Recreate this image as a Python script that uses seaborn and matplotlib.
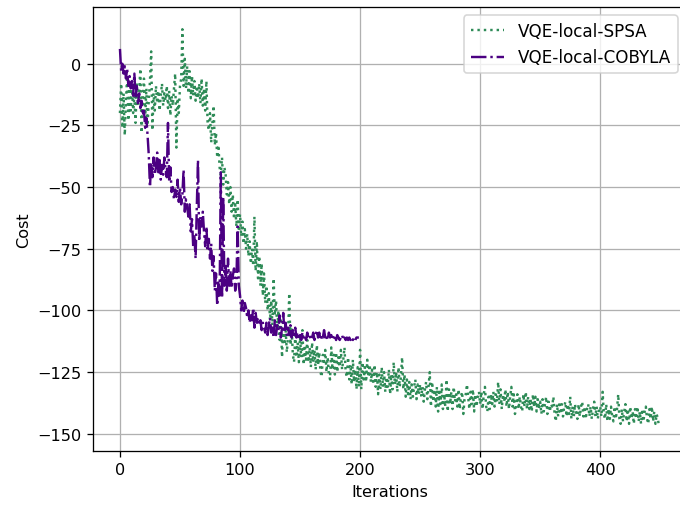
import numpy as np
import pandas as pd
import matplotlib
matplotlib.use("Agg")
import matplotlib.pyplot as plt
import seaborn as sns

# SPSA cost per iteration (0..449)
spsa_cost = [
    -20, -8, -26, -12, -29, -15, -5, -23, -10, -19,
    -9, -20, -13, -24, -8, -17, -11, -2, -28, -14,
    -6, -22, -10, -25, -15, -7, 5, -27, -12, -19,
    -9, -16, -11, -19, -13, -8, -17, -12, -15, -9,
    -18, -11, -21, -13, -17, -10, -4, -34, -14, -20,
    -9, -6, 14, -9, 2, -10, -1, -12, -3, -14,
    -5, -13, -7, -15, -9, -14, -8, -16, -6, -17,
    -10, -19, -7, -24, -27, -20, -32, -24, -17, -33,
    -28, -38, -33, -42, -45, -38, -49, -42, -45, -53,
    -48, -57, -50, -60, -53, -63, -57, -66, -55, -68,
    -61, -70, -64, -73, -67, -75, -69, -78, -72, -81,
    -75, -82, -62, -84, -72, -87, -78, -90, -81, -94,
    -85, -97, -90, -100, -93, -104, -96, -106, -87, -102,
    -96, -108, -100, -112, -103, -119, -105, -114, -108, -117,
    -110, -93, -114, -107, -118, -121, -110, -119, -113, -121,
    -111, -119, -108, -122, -114, -120, -112, -121, -115, -123,
    -113, -121, -116, -124, -114, -122, -117, -125, -127, -118,
    -122, -116, -125, -119, -126, -128, -115, -124, -118, -126,
    -117, -125, -119, -123, -116, -124, -120, -115, -125, -127,
    -119, -128, -122, -130, -120, -129, -124, -132, -123, -131,
    -116, -132, -121, -128, -123, -129, -120, -127, -122, -129,
    -124, -130, -122, -131, -125, -134, -126, -132, -123, -131,
    -125, -133, -127, -131, -124, -134, -126, -132, -121, -130,
    -125, -133, -123, -131, -127, -119, -132, -126, -135, -128,
    -134, -129, -136, -130, -135, -131, -128, -136, -130, -134,
    -130, -135, -131, -137, -132, -129, -136, -131, -125, -139,
    -129, -137, -132, -139, -131, -141, -133, -138, -130, -140,
    -134, -139, -128, -141, -132, -138, -133, -140, -131, -137,
    -134, -139, -132, -140, -135, -133, -142, -136, -134, -130,
    -135, -140, -133, -138, -132, -141, -134, -139, -135, -133,
    -138, -133, -140, -134, -131, -139, -141, -135, -140, -134,
    -138, -133, -139, -134, -137, -129, -138, -132, -140, -134,
    -137, -132, -139, -133, -140, -135, -131, -139, -134, -142,
    -138, -134, -140, -135, -139, -141, -134, -139, -133, -140,
    -135, -140, -136, -141, -134, -139, -135, -141, -136, -140,
    -137, -142, -136, -141, -138, -135, -142, -137, -141, -138,
    -139, -135, -142, -145, -138, -143, -137, -142, -138, -143,
    -139, -137, -143, -138, -142, -135, -144, -139, -143, -138,
    -142, -144, -138, -143, -139, -137, -143, -139, -144, -140,
    -138, -143, -139, -144, -140, -137, -143, -139, -144, -140,
    -139, -143, -133, -142, -144, -138, -145, -140, -144, -139,
    -143, -145, -139, -144, -140, -134, -144, -146, -140, -145,
    -141, -138, -145, -140, -146, -139, -144, -141, -146, -140,
    -144, -139, -145, -141, -146, -140, -145, -141, -139, -144,
    -146, -140, -144, -139, -145, -141, -146, -142, -144, -147,
]

# COBYLA cost per iteration (0..199)
cobyla_cost = [
    6, -3, 0, -4, -1, -6, -2, -9, -5, -10,
    -7, -13, -4, -14, -9, -16, -12, -18, -15, -21,
    -19, -26, -22, -29, -37, -50, -40, -46, -38, -45,
    -42, -36, -44, -39, -47, -41, -45, -38, -43, -46,
    -24, -48, -42, -52, -50, -55, -51, -54, -47, -56,
    -50, -57, -53, -43, -60, -55, -58, -62, -57, -68,
    -63, -74, -70, -79, -58, -39, -72, -62, -66, -60,
    -68, -74, -66, -76, -71, -79, -73, -84, -78, -92,
    -85, -98, -88, -94, -44, -95, -54, -90, -82, -92,
    -79, -90, -84, -91, -86, -83, -92, -88, -66, -90,
    -94, -100, -96, -101, -97, -99, -103, -100, -105, -102,
    -104, -99, -107, -101, -105, -103, -106, -104, -108, -105,
    -107, -109, -105, -110, -106, -103, -109, -107, -111, -104,
    -110, -106, -108, -102, -111, -107, -101, -109, -105, -110,
    -107, -110, -106, -111, -108, -110, -107, -111, -109, -112,
    -110, -112, -109, -111, -110, -112, -109, -111, -110, -112,
    -111, -109, -112, -110, -108, -111, -109, -112, -110, -111,
    -108, -111, -110, -112, -109, -111, -110, -112, -111, -110,
    -112, -110, -111, -112, -111, -110, -112, -111, -112, -111,
    -112, -111, -112, -111, -112, -111, -112, -111, -111, -111,
]

labels = ["VQE-local-SPSA", "VQE-local-COBYLA"]
colors = ["#2e8b57", "#4b0082"]

spsa_df = pd.DataFrame({"Iterations": np.arange(len(spsa_cost)), "Cost": spsa_cost})
cobyla_df = pd.DataFrame({"Iterations": np.arange(len(cobyla_cost)), "Cost": cobyla_cost})

dpi = 116
fig = plt.figure(figsize=(680 / dpi, 506 / dpi), dpi=dpi)
ax = fig.add_axes([93 / 680, 1 - 452 / 506, (686 - 93) / 680, (452 - 8) / 506])

sns.lineplot(data=spsa_df, x="Iterations", y="Cost", ax=ax, color=colors[0],
             linestyle=":", linewidth=1.5, label=labels[0])
sns.lineplot(data=cobyla_df, x="Iterations", y="Cost", ax=ax, color=colors[1],
             linestyle="-.", linewidth=1.5, label=labels[1])

ax.set_xlim(-22.45, 471.45)
ax.set_ylim(-157, 23)
ax.set_xticks([0, 100, 200, 300, 400])
ax.set_yticks([0, -25, -50, -75, -100, -125, -150])
ax.grid(True, color="#b0b0b0", linewidth=0.8)
ax.set_xlabel("Iterations")
ax.set_ylabel("Cost")
ax.legend(loc="upper right", fontsize=10.4)

fig.savefig("out.png", dpi=dpi)
